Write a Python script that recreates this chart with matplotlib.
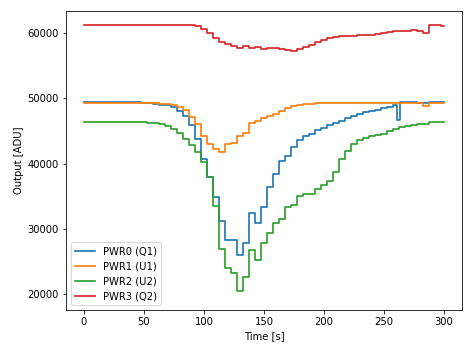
import numpy as np
import matplotlib
matplotlib.use('Agg')
import matplotlib.pyplot as plt

# time axis [s], one sample every 5 s
time_s = list(range(0, 305, 5))
# PWR0 has an extra short glitch around t=260 s
time_pwr0 = time_s[:53] + [261] + time_s[53:]

pwr0 = [49450, 49450, 49450, 49450, 49450, 49450, 49450, 49450, 49400, 49400,
        49350, 49250, 49150, 49050, 48950, 48650, 48100, 47300, 46000, 43800,
        40800, 38000, 34900, 31300, 28300, 28300, 26000, 27800, 32400, 31000,
        33400, 36500, 38500, 40500, 41200, 42500, 43600, 44300, 44600, 45200,
        45500, 45900, 46300, 46600, 47000, 47300, 47600, 47900, 48100, 48300,
        48500, 48750, 48950, 46700, 49450, 49450, 49400, 49350, 49250, 49400,
        49400, 49400]
pwr1 = [49300, 49300, 49300, 49300, 49300, 49300, 49300, 49300, 49300, 49300,
        49300, 49300, 49250, 49200, 49100, 48950, 48650, 48250, 47200, 46100,
        44200, 43100, 42300, 41800, 43000, 43200, 44300, 44700, 46200, 46500,
        47000, 47300, 47600, 48100, 48500, 48800, 49000, 49100, 49200, 49250,
        49300, 49300, 49300, 49300, 49300, 49300, 49300, 49300, 49300, 49300,
        49300, 49300, 49300, 49300, 49300, 49300, 49300, 48850, 49300, 49350,
        49350]
pwr2 = [46400, 46400, 46400, 46400, 46400, 46400, 46400, 46400, 46400, 46400,
        46400, 46300, 46200, 46050, 45800, 45350, 44700, 43800, 42800, 41800,
        40300, 38000, 33500, 27000, 24000, 23200, 20500, 22700, 26800, 25300,
        27800, 29400, 31000, 31500, 33400, 33700, 35000, 35400, 35300, 36200,
        36800, 37400, 38700, 40700, 42000, 43000, 43600, 44000, 44200, 44400,
        44600, 45000, 45400, 45600, 45850, 46000, 46050, 46100, 46400, 46350,
        46350]
pwr3 = [61230, 61230, 61230, 61230, 61230, 61230, 61230, 61230, 61230, 61230,
        61230, 61230, 61230, 61230, 61230, 61230, 61230, 61230, 61230, 61150,
        60700, 60000, 59200, 58700, 58300, 58000, 57700, 58000, 57700, 57900,
        57600, 57800, 57700, 57600, 57500, 57300, 57600, 57900, 58200, 58600,
        59000, 59300, 59400, 59500, 59550, 59600, 59650, 59700, 59800, 59950,
        60050, 60150, 60300, 60350, 60400, 60450, 60300, 60000, 61250, 61200,
        61100]

labels = ['PWR0 (Q1)', 'PWR1 (U1)', 'PWR2 (U2)', 'PWR3 (Q2)']

fig = plt.figure(figsize=(473/72, 347/72), dpi=72)
ax = fig.add_axes([0.1395, 0.1066, 0.8372, 0.8617])

ax.plot(time_pwr0, pwr0, drawstyle='steps-mid', lw=1.7, label=labels[0])
ax.plot(time_s, pwr1, drawstyle='steps-mid', lw=1.7, label=labels[1])
ax.plot(time_s, pwr2, drawstyle='steps-mid', lw=1.7, label=labels[2])
ax.plot(time_s, pwr3, drawstyle='steps-mid', lw=1.7, label=labels[3])

ax.set_xlim(-15, 315)
ax.set_ylim(17600, 63400)
ax.set_xlabel('Time [s]')
ax.set_ylabel('Output [ADU]')
ax.legend(loc='lower left')

fig.savefig('out.png', dpi=72)
